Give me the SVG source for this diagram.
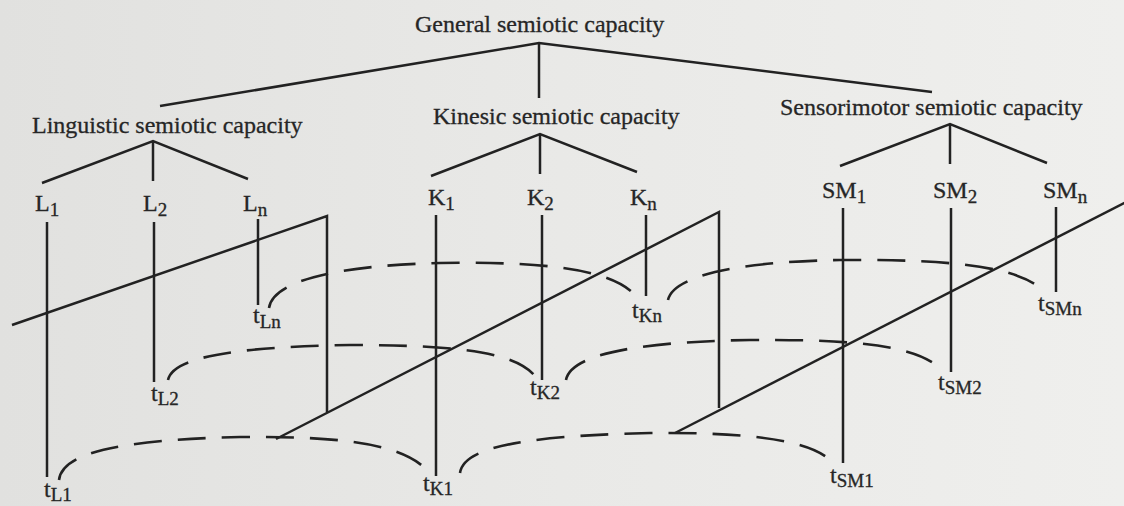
<svg xmlns="http://www.w3.org/2000/svg" width="1124" height="506" viewBox="0 0 1124 506">
<defs>
<linearGradient id="paper" x1="0" y1="0" x2="1" y2="0">
<stop offset="0" stop-color="#e1e1df"/>
<stop offset="0.5" stop-color="#e9e9e7"/>
<stop offset="1" stop-color="#efefed"/>
</linearGradient>
<style>
.lbl{font-family:"Liberation Serif","Times New Roman",serif;font-size:24px;fill:#262626;stroke:#262626;stroke-width:0.3}
.sub{font-size:19px}
.ln{stroke:#222;stroke-width:2.5;fill:none;stroke-linecap:butt}
.dash{stroke:#222;stroke-width:2.6;fill:none;stroke-dasharray:28 16}
</style>
</defs>
<rect x="0" y="0" width="1124" height="506" fill="url(#paper)"/>

<g id="connectors">
<polyline class="ln" points="160,106 539,43 932,92"/>
<line class="ln" x1="539" y1="43" x2="539" y2="98"/>
<polyline class="ln" points="42,183 153,141 248,179"/>
<line class="ln" x1="153" y1="141" x2="153" y2="181"/>
<polyline class="ln" points="431,176 540,134 637,172"/>
<line class="ln" x1="540" y1="134" x2="540" y2="174"/>
<polyline class="ln" points="840,166 950,124 1047,163"/>
<line class="ln" x1="950" y1="124" x2="950" y2="164"/>
<line class="ln" x1="47" y1="222" x2="47" y2="477"/>
<line class="ln" x1="154" y1="222" x2="154" y2="382"/>
<line class="ln" x1="258" y1="219" x2="258" y2="305"/>
<line class="ln" x1="436" y1="215" x2="436" y2="476"/>
<line class="ln" x1="542" y1="215" x2="542" y2="380"/>
<line class="ln" x1="646" y1="215" x2="646" y2="296"/>
<line class="ln" x1="843" y1="208" x2="843" y2="463"/>
<line class="ln" x1="951" y1="208" x2="951" y2="372"/>
<line class="ln" x1="1056" y1="207" x2="1056" y2="292"/>
<polyline class="ln" points="12,325 327,216 327,412"/>
<polyline class="ln" points="276,439 719,212 719,408"/>
<line class="ln" x1="675" y1="433" x2="1130" y2="200"/>
<path class="dash" d="M269,308 C272,285 320,266 440,263 C560,261 620,272 639,300"/>
<path class="dash" d="M668,300 C672,280 720,262 840,260 C960,259 1020,268 1044,291"/>
<path class="dash" d="M168,380 C172,360 220,347 350,345 C460,345 520,352 538,380"/>
<path class="dash" d="M566,380 C570,358 620,342 750,340 C870,339 920,348 942,370"/>
<path class="dash" d="M59,480 C62,455 110,440 240,437 C350,436 405,445 430,473"/>
<path class="dash" d="M460,473 C463,450 510,436 650,433 C760,432 815,442 833,463"/>
</g>

<g id="general"><text class="lbl" x="415" y="32">General semiotic capacity</text></g>
<g id="linguistic"><text class="lbl" x="32" y="133">Linguistic semiotic capacity</text></g>
<g id="kinesic"><text class="lbl" x="433" y="124">Kinesic semiotic capacity</text></g>
<g id="sensorimotor"><text class="lbl" x="780" y="115">Sensorimotor semiotic capacity</text></g>

<g id="L1"><text class="lbl" x="35" y="211">L<tspan class="sub" dy="5">1</tspan></text></g>
<g id="L2"><text class="lbl" x="143" y="211">L<tspan class="sub" dy="5">2</tspan></text></g>
<g id="Ln"><text class="lbl" x="243" y="211">L<tspan class="sub" dy="5">n</tspan></text></g>
<g id="K1"><text class="lbl" x="428" y="205">K<tspan class="sub" dy="5">1</tspan></text></g>
<g id="K2"><text class="lbl" x="527" y="205">K<tspan class="sub" dy="5">2</tspan></text></g>
<g id="Kn"><text class="lbl" x="630" y="205">K<tspan class="sub" dy="5">n</tspan></text></g>
<g id="SM1"><text class="lbl" x="822" y="198">SM<tspan class="sub" dy="5">1</tspan></text></g>
<g id="SM2"><text class="lbl" x="933" y="198">SM<tspan class="sub" dy="5">2</tspan></text></g>
<g id="SMn"><text class="lbl" x="1043" y="198">SM<tspan class="sub" dy="5">n</tspan></text></g>

<g id="tL1"><text class="lbl" x="44" y="497">t<tspan class="sub" dy="4">L1</tspan></text></g>
<g id="tL2"><text class="lbl" x="151" y="401">t<tspan class="sub" dy="4">L2</tspan></text></g>
<g id="tLn"><text class="lbl" x="253" y="323">t<tspan class="sub" dy="5">Ln</tspan></text></g>
<g id="tK1"><text class="lbl" x="423" y="491">t<tspan class="sub" dy="4">K1</tspan></text></g>
<g id="tK2"><text class="lbl" x="530" y="395">t<tspan class="sub" dy="4">K2</tspan></text></g>
<g id="tKn"><text class="lbl" x="632" y="318">t<tspan class="sub" dy="4">Kn</tspan></text></g>
<g id="tSM1"><text class="lbl" x="830" y="483">t<tspan class="sub" dy="4">SM1</tspan></text></g>
<g id="tSM2"><text class="lbl" x="938" y="390">t<tspan class="sub" dy="4">SM2</tspan></text></g>
<g id="tSMn"><text class="lbl" x="1038" y="311">t<tspan class="sub" dy="4">SMn</tspan></text></g>
</svg>
